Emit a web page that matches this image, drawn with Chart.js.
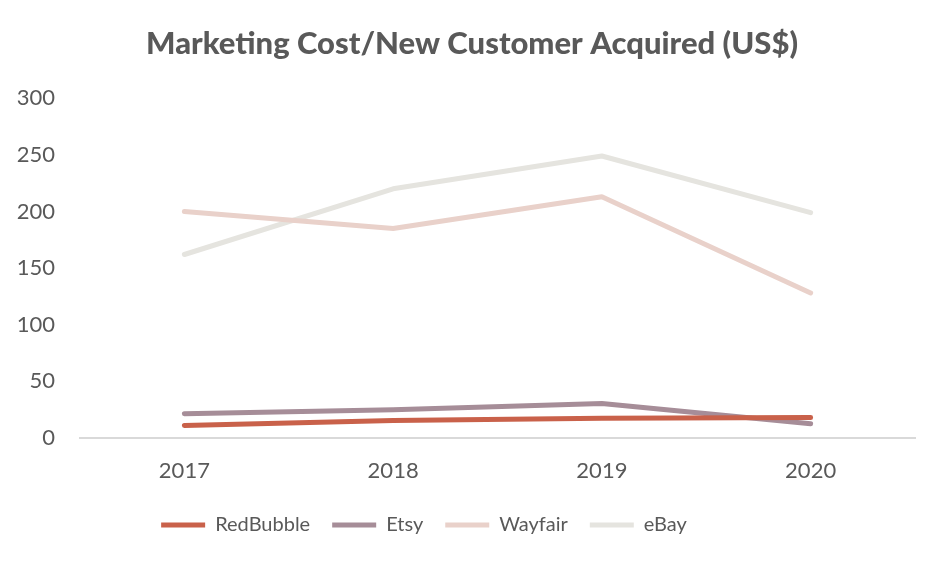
<!DOCTYPE html>
<html>
<head>
<meta charset="utf-8">
<script src="https://cdn.jsdelivr.net/npm/chart.js@4/dist/chart.umd.min.js"></script>
<style>
  html, body { margin: 0; padding: 0; background: #ffffff; }
  #wrap { width: 944px; height: 568px; position: relative; }
</style>
</head>
<body>
<div id="wrap"><canvas id="c" width="944" height="568"></canvas></div>
<script>
const categories = ["2017", "2018", "2019", "2020"];
const redBubble = [11, 15.5, 17.5, 18];
const etsy = [21.5, 25, 30.5, 12.5];
const wayfair = [200, 185, 213, 128];
const ebay = [162, 220, 249, 199];
const yTicks = [0, 50, 100, 150, 200, 250, 300];

const FONT = "Lato, 'Open Sans', sans-serif";
const TXT = "#595959";

function ds(label, data, color) {
  return {
    label: label,
    data: data,
    borderColor: color,
    backgroundColor: color,
    borderWidth: 5,
    borderCapStyle: "round",
    borderJoinStyle: "round",
    pointRadius: 0,
    pointHoverRadius: 0,
    pointStyle: "line",
    tension: 0,
    fill: false
  };
}

// Shift the legend row horizontally (the reference legend sits left of centre)
const legendShift = {
  id: "legendShift",
  afterLayout(chart, args, opts) {
    const l = chart.legend;
    if (!l) return;
    l.left += opts.dx;
    l.right += opts.dx;
  }
};

new Chart(document.getElementById("c"), {
  type: "line",
  data: {
    labels: categories,
    datasets: [
      ds("RedBubble", redBubble, "#C9614A"),
      ds("Etsy", etsy, "#A68D98"),
      ds("Wayfair", wayfair, "#E9D1CA"),
      ds("eBay", ebay, "#E5E4DF")
    ]
  },
  plugins: [legendShift],
  options: {
    responsive: false,
    animation: false,
    layout: { padding: { left: 0, right: 0, top: 0, bottom: 23 } },
    plugins: {
      legendShift: { dx: -48 },
      title: {
        display: true,
        text: "Marketing Cost/New Customer Acquired (US$)",
        color: TXT,
        font: { family: FONT, size: 31, weight: 900 },
        padding: { top: 25, bottom: 36 }
      },
      legend: {
        position: "bottom",
        labels: {
          usePointStyle: true,
          pointStyleWidth: 44,
          padding: 22,
          color: TXT,
          font: { family: FONT, size: 20 }
        }
      },
      tooltip: { enabled: false }
    },
    scales: {
      x: {
        offset: true,
        afterFit: function (s) { s.height = 55; },
        grid: { display: false, drawTicks: false },
        border: { display: true, color: "#D9D9D9", width: 2 },
        ticks: { color: TXT, font: { family: FONT, size: 22 }, padding: 20 }
      },
      y: {
        min: 0,
        max: 300,
        afterBuildTicks: function (s) { s.ticks = yTicks.map(v => ({ value: v })); },
        afterFit: function (s) { s.width = 80; },
        grid: { display: false, drawTicks: false },
        border: { display: false },
        ticks: { color: TXT, font: { family: FONT, size: 22 }, padding: 25 }
      },
      yRightSpace: {
        position: "right",
        display: true,
        min: 0,
        max: 300,
        afterFit: function (s) { s.width = 29; },
        grid: { display: false, drawTicks: false },
        border: { display: false },
        ticks: { display: false }
      }
    }
  }
});
</script>
</body>
</html>
